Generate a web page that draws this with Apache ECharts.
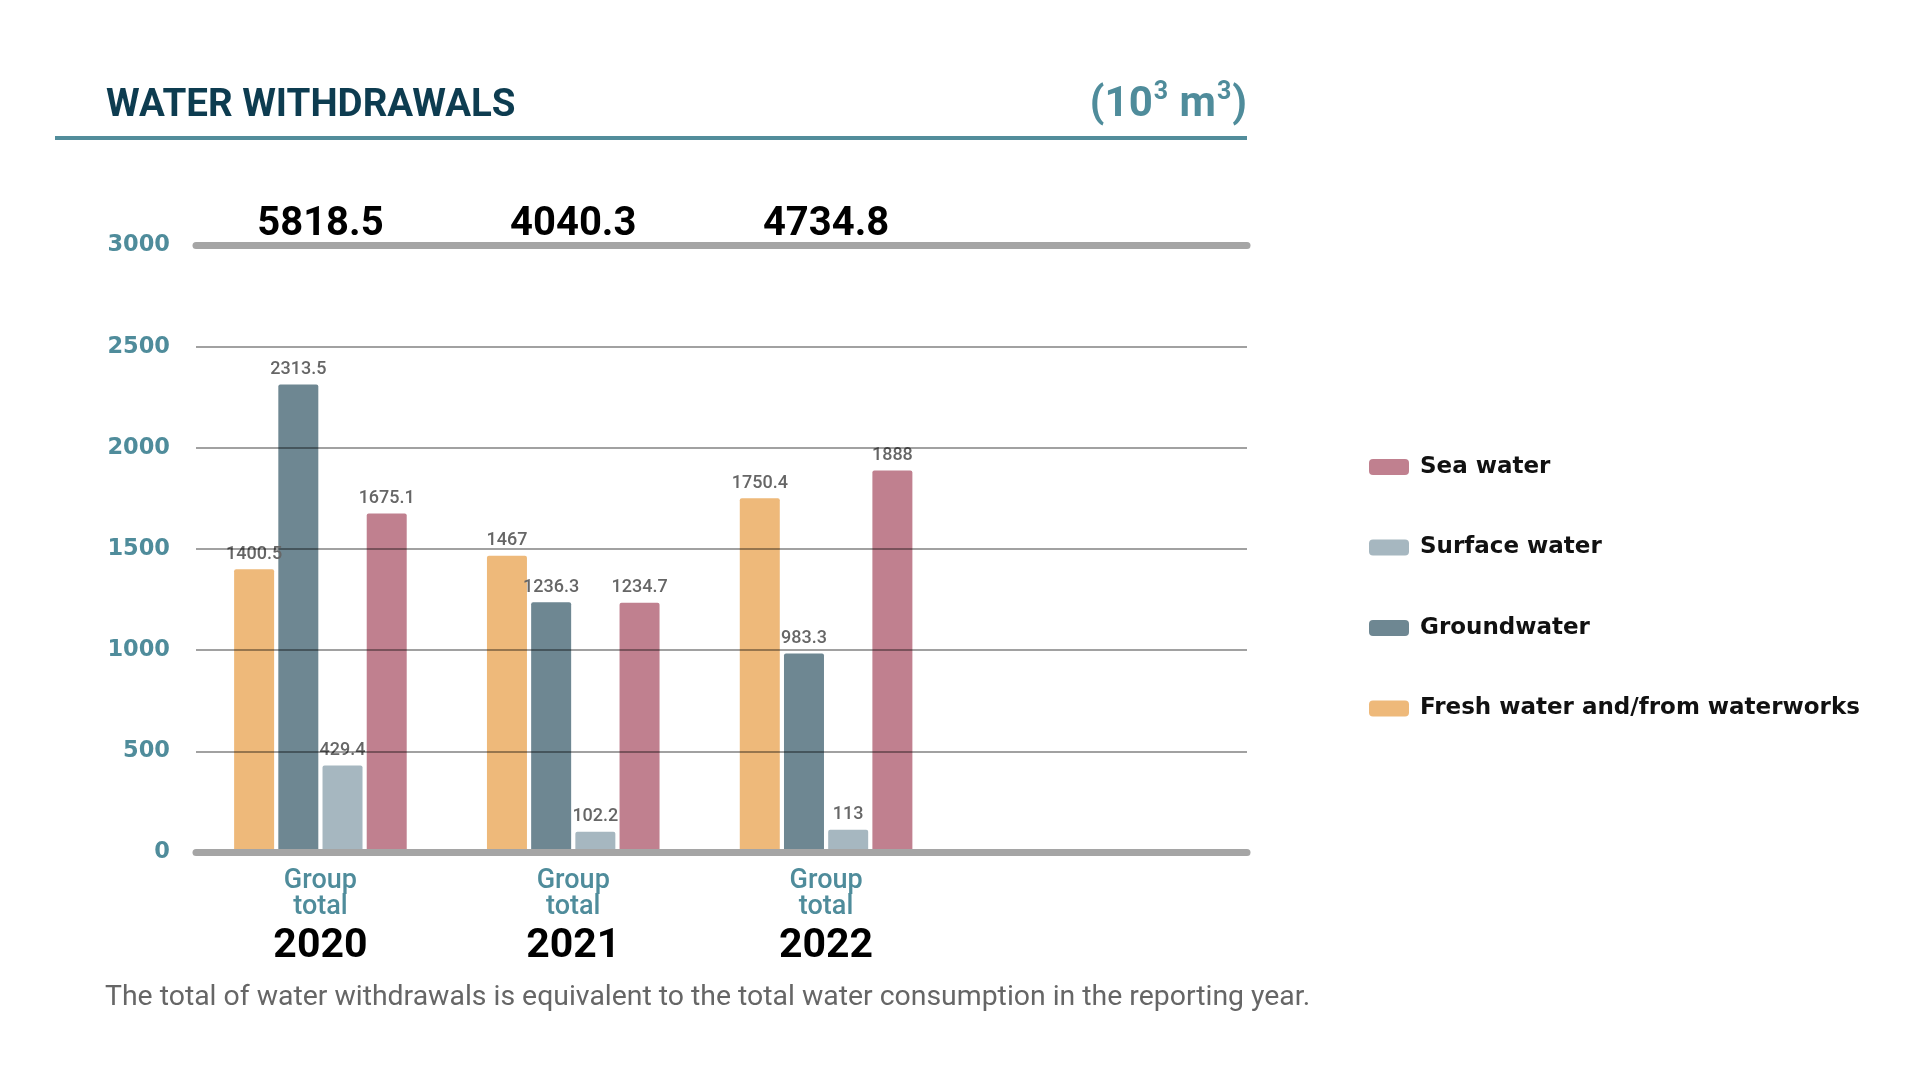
<!DOCTYPE html>
<html>
<head>
<meta charset="utf-8">
<script src="https://cdn.jsdelivr.net/npm/echarts@6/dist/echarts.min.js"></script>
<style>
html,body{margin:0;padding:0;background:#fff;}
#chart{width:1920px;height:1080px;}
</style>
</head>
<body>
<div id="chart"></div>
<script>
const years = ['2020', '2021', '2022'];
const totals = ['5818.5', '4040.3', '4734.8'];
const freshWater = [1400.5, 1467, 1750.4];
const groundwater = [2313.5, 1236.3, 983.3];
const surfaceWater = [429.4, 102.2, 113];
const seaWater = [1675.1, 1234.7, 1888];
const yMin = 0, yMax = 3000, yStep = 500;
const seriesNames = ['Fresh water and/from waterworks', 'Groundwater', 'Surface water', 'Sea water'];
const legendOrder = ['Sea water', 'Surface water', 'Groundwater', 'Fresh water and/from waterworks'];
const colors = ['#EEB97A', '#6E8792', '#A6B7C0', '#C0808F'];
const seriesData = [freshWater, groundwater, surfaceWater, seaWater];

const chart = echarts.init(document.getElementById('chart'), null, {renderer: 'canvas'});

const TEAL = '#4F8C9B';
const gridTop = 245.5, gridBottom = 1080 - 852.5;

const option = {
  backgroundColor: '#fff',
  animation: false,
  color: colors,
  graphic: [
    {type: 'text', left: 106, top: 87, style: {text: 'WATER WITHDRAWALS', font: 'bold 38.5px Roboto', fill: '#0D3C50'}},
    {type: 'rect', shape: {x: 55, y: 136, width: 1192, height: 4}, style: {fill: '#528D9B'}},
    {type: 'text', right: 1920 - 1247, top: 80, style: {
      text: '{m|(10}{s|3}{m| m}{s|3}{m|)}',
      rich: {
        m: {fontFamily: 'Roboto', fontWeight: 'bold', fontSize: 42, lineHeight: 46, fill: TEAL, verticalAlign: 'bottom'},
        s: {fontFamily: 'Roboto', fontWeight: 'bold', fontSize: 25, lineHeight: 46, fill: TEAL, verticalAlign: 'top', padding: [0, 1, 20, 1]}
      }
    }},
    {type: 'text', left: 105, top: 984, style: {text: 'The total of water withdrawals is equivalent to the total water consumption in the reporting year.', font: '28.4px Roboto', fill: '#666666'}}
  ],
  legend: {
    orient: 'vertical',
    left: 1364,
    top: 450,
    itemWidth: 40,
    itemHeight: 16,
    itemGap: 56.5,
    icon: 'roundRect',
    data: legendOrder,
    textStyle: {fontFamily: 'DejaVu Sans', fontWeight: 'bold', fontSize: 23, lineHeight: 24, color: '#111', padding: [0, 0, 0, 6]}
  },
  grid: [
    {left: 196, right: 1920 - 1247, top: gridTop, bottom: gridBottom, containLabel: false},
    {left: 194, width: 758.5, top: gridTop, bottom: gridBottom, containLabel: false}
  ],
  xAxis: [
    {gridIndex: 0, type: 'category', data: years, position: 'bottom', z: 11,
      axisLine: {show: true, lineStyle: {color: '#A5A5A5', width: 7}},
      axisTick: {show: false}, axisLabel: {show: false}, splitLine: {show: false}},
    {gridIndex: 0, type: 'category', data: years, position: 'top', z: 11,
      axisLine: {show: true, lineStyle: {color: '#A5A5A5', width: 7}},
      axisTick: {show: false}, axisLabel: {show: false}, splitLine: {show: false}},
    {gridIndex: 1, type: 'category', data: years, position: 'bottom',
      axisLine: {show: false}, axisTick: {show: false}, splitLine: {show: false},
      axisLabel: {
        margin: 16,
        formatter: v => '{g|Group}\n{g|total}\n{y|' + v + '}',
        rich: {
          g: {fontFamily: 'Roboto', fontWeight: 500, fontSize: 27, lineHeight: 26, color: TEAL, align: 'center'},
          y: {fontFamily: 'Roboto', fontWeight: 'bold', fontSize: 41, lineHeight: 52, color: '#000', align: 'center'}
        }
      }},
    {gridIndex: 1, type: 'category', data: totals, position: 'top',
      axisLine: {show: false}, axisTick: {show: false}, splitLine: {show: false},
      axisLabel: {margin: 1, fontFamily: 'Roboto', fontWeight: 'bold', fontSize: 40, lineHeight: 40, color: '#000'}}
  ],
  yAxis: [
    {gridIndex: 0, type: 'value', min: yMin, max: yMax, interval: yStep, z: 10,
      axisLine: {show: false}, axisTick: {show: false},
      axisLabel: {margin: 26, fontFamily: 'DejaVu Sans', fontWeight: 'bold', fontSize: 22.5, color: TEAL, formatter: v => String(v)},
      splitLine: {show: true, showMinLine: false, showMaxLine: false, lineStyle: {color: 'rgba(0,0,0,0.37)', width: 2}}},
    {gridIndex: 1, type: 'value', min: yMin, max: yMax, interval: yStep, show: false,
      splitLine: {show: false}}
  ],
  series: seriesNames.map((name, i) => ({
    name: name,
    type: 'bar',
    xAxisIndex: 2,
    yAxisIndex: 1,
    data: seriesData[i],
    barWidth: 40,
    barGap: '10.5%',
    itemStyle: {color: colors[i], borderRadius: [2, 2, 0, 0]},
    label: {show: true, position: 'top', distance: 6, fontFamily: 'Roboto', fontWeight: 500, fontSize: 18, color: '#666'}
  }))
};
chart.setOption(option);
</script>
</body>
</html>
